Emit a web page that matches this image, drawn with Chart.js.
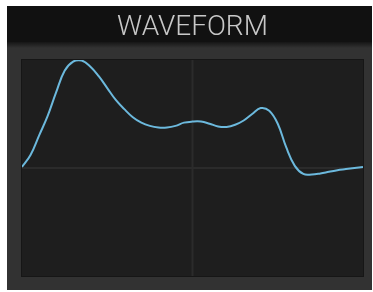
<!DOCTYPE html>
<html lang="en">
    <head>
        <meta charset="UTF-8" />
        <title>Waveform</title>
        <script src="https://cdn.jsdelivr.net/npm/chart.js"></script>
        <style>
            html, body { margin: 0; padding: 0; background: #fff; }
            #wrap { width: 373px; height: 292px; }
        </style>
    </head>
    <body>
        <div id="wrap"><canvas id="myChart"></canvas></div>
        <script>
            // Waveform, one sample every 2.5 x-units (x: 0..100, y: -1..1)
            const xValues = [0, 2.5, 5, 7.5, 10, 12.5, 15, 17.5, 20, 22.5, 25, 27.5, 30, 32.5, 35, 37.5, 40, 42.5, 45, 47.5, 50, 52.5, 55, 57.5, 60, 62.5, 65, 67.5, 70, 72.5, 75, 77.5, 80, 82.5, 85, 87.5, 90, 92.5, 95, 97.5, 100];
            const yValues = [0.01, 0.12, 0.30, 0.48, 0.70, 0.90, 0.985, 0.995, 0.94, 0.85, 0.74, 0.63, 0.545, 0.47, 0.42, 0.39, 0.375, 0.375, 0.39, 0.42, 0.43, 0.43, 0.41, 0.385, 0.38, 0.40, 0.44, 0.50, 0.555, 0.53, 0.41, 0.19, 0.02, -0.055, -0.06, -0.05, -0.035, -0.02, -0.01, 0.0, 0.01];
            const title = "WAVEFORM";

            const points = xValues.map((x, i) => ({ x: x, y: yValues[i] }));

            // panel, plot frame and center cross
            const panelPlugin = {
                id: "panel",
                beforeDraw(chart) {
                    const c = chart.ctx;
                    const a = chart.chartArea;
                    const xs = chart.scales.x;
                    const ys = chart.scales.y;
                    c.save();
                    c.fillStyle = "#ffffff";
                    c.fillRect(0, 0, chart.width, chart.height);
                    c.fillStyle = "#323232";
                    c.fillRect(7, 6, 365, 284);
                    const g = c.createLinearGradient(0, 41, 0, 48);
                    g.addColorStop(0, "#111111");
                    g.addColorStop(1, "#323232");
                    c.fillStyle = g;
                    c.fillRect(7, 41, 365, 7);
                    c.fillStyle = "#111111";
                    c.fillRect(7, 6, 365, 36);
                    c.fillStyle = "#161616";
                    c.fillRect(a.left - 1, a.top - 1, a.right - a.left + 2, a.bottom - a.top + 2);
                    c.fillStyle = "#1e1e1e";
                    c.fillRect(a.left, a.top, a.right - a.left, a.bottom - a.top);
                    c.strokeStyle = "#2b2b2b";
                    c.lineWidth = 2;
                    const cx = xs.getPixelForValue(50);
                    const cy = ys.getPixelForValue(0);
                    c.beginPath();
                    c.moveTo(cx, a.top);
                    c.lineTo(cx, a.bottom);
                    c.moveTo(a.left, cy);
                    c.lineTo(a.right, cy);
                    c.stroke();
                    c.restore();
                },
            };

            const ctx = document.getElementById("myChart").getContext("2d");
            const myChart = new Chart(ctx, {
                type: "line",
                data: {
                    datasets: [
                        {
                            data: points,
                            borderColor: "#6cb9dd",
                            borderWidth: 2,
                            pointRadius: 0,
                            fill: false,
                            tension: 0.4,
                        },
                    ],
                },
                options: {
                    responsive: true,
                    maintainAspectRatio: false,
                    animation: false,
                    layout: {
                        padding: { top: 11, left: 22, right: 10, bottom: 16 },
                    },
                    plugins: {
                        legend: { display: false },
                        tooltip: { enabled: false },
                        title: {
                            display: true,
                            text: title,
                            color: "#c8c8c8",
                            font: { family: "Roboto", size: 28, weight: "300" },
                            padding: { top: 0, bottom: 15.4 },
                        },
                    },
                    scales: {
                        x: { type: "linear", min: 0, max: 100, display: false },
                        y: { min: -1, max: 1, display: false },
                    },
                },
                plugins: [panelPlugin],
            });
        </script>
    </body>
</html>
